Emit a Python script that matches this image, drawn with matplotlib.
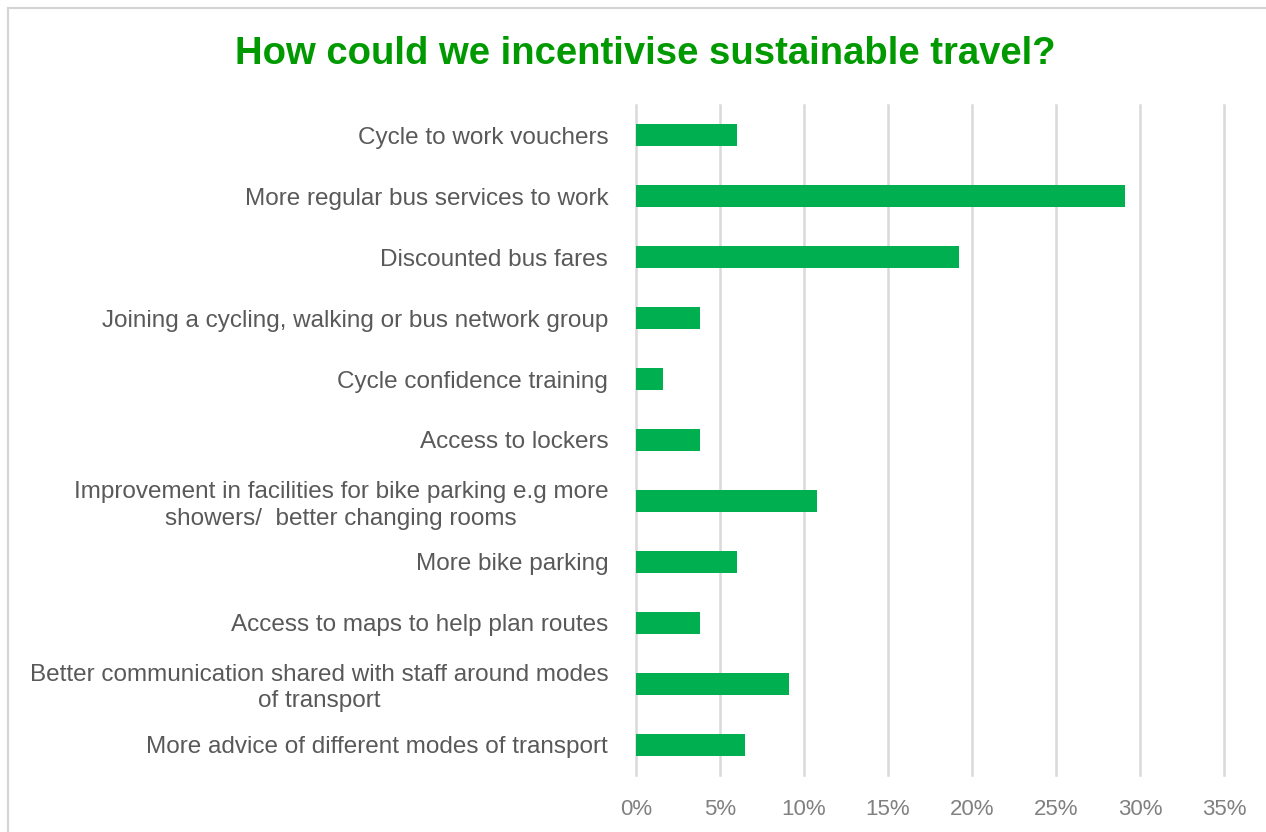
import matplotlib.pyplot as plt
from matplotlib.patches import Rectangle
from matplotlib.ticker import FuncFormatter

categories = [
    "Cycle to work vouchers",
    "More regular bus services to work",
    "Discounted bus fares",
    "Joining a cycling, walking or bus network group",
    "Cycle confidence training",
    "Access to lockers",
    "Improvement in facilities for bike parking e.g more\nshowers/  better changing rooms",
    "More bike parking",
    "Access to maps to help plan routes",
    "Better communication shared with staff around modes\nof transport",
    "More advice of different modes of transport",
]
values = [6.0, 29.1, 19.2, 3.8, 1.6, 3.8, 10.8, 6.0, 3.8, 9.1, 6.5]
xticks = [0, 5, 10, 15, 20, 25, 30, 35]

plt.rcParams['font.family'] = ['Liberation Sans', 'DejaVu Sans']

fig = plt.figure(figsize=(12.66, 8.32), dpi=100)
ax = fig.add_axes([636 / 1266, 1 - 775 / 832, (1224 - 636) / 1266, (775 - 105) / 832])

# light frame around the picture, like the screenshot
fig.patches.append(Rectangle((8 / 1266, -0.1), 1.2, 1 - 8 / 832 + 0.1,
                             transform=fig.transFigure, fill=False,
                             edgecolor="#d4d4d4", linewidth=1.5))

y = range(len(categories))
ax.barh(y, values, height=0.36, color="#00b050", zorder=3)
ax.set_ylim(len(categories) - 0.5, -0.5)
ax.set_xlim(0, 35)
ax.set_xticks(xticks)
ax.xaxis.set_major_formatter(FuncFormatter(lambda v, p: f"{v:.0f}%"))
ax.set_yticks(list(y))
ax.set_yticklabels(categories, fontsize=17.5, color="#595959", ha="right",
                   multialignment="center", linespacing=1.25)
ax.tick_params(axis="y", length=0, pad=20)
ax.tick_params(axis="x", length=0, pad=17, labelsize=16, labelcolor="#808080")
ax.grid(axis="x", color="#d9d9d9", linewidth=1.8, zorder=0)
for gl in ax.get_xgridlines():
    gl.set_clip_on(False)
for s in ax.spines.values():
    s.set_visible(False)

fig.text(645 / 1266, 1 - 54 / 832, "How could we incentivise sustainable travel?",
         ha="center", va="center", fontsize=27.5, fontweight="bold", color="#009a00")

fig.savefig("out.png", dpi=100)
